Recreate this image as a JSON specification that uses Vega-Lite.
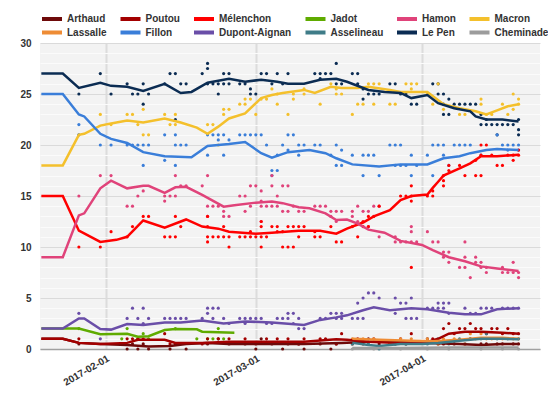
{
  "$schema": "https://vega.github.io/schema/vega-lite/v6.json",
  "width": 500,
  "height": 306,
  "autosize": {"type": "none"},
  "padding": {"left": 40, "top": 43, "right": 8, "bottom": 61},
  "config": {
    "font": "Liberation Sans",
    "view": {"fill": "#f3f3f3", "stroke": null}
  },
  "datasets": {
    "lines": [
      {"c":"Arthaud","d":"2017-01-20","v":1},{"c":"Arthaud","d":"2017-01-24","v":1},{"c":"Arthaud","d":"2017-01-27","v":0.6},{"c":"Arthaud","d":"2017-01-31","v":0.5},{"c":"Arthaud","d":"2017-02-05","v":0.4},{"c":"Arthaud","d":"2017-02-09","v":0.25},{"c":"Arthaud","d":"2017-02-13","v":0.3},{"c":"Arthaud","d":"2017-02-16","v":0.5},{"c":"Arthaud","d":"2017-02-20","v":0.6},{"c":"Arthaud","d":"2017-02-24","v":0.5},{"c":"Arthaud","d":"2017-03-01","v":0.5},{"c":"Arthaud","d":"2017-03-10","v":0.5},{"c":"Arthaud","d":"2017-03-17","v":0.6},{"c":"Arthaud","d":"2017-03-22","v":0.7},{"c":"Arthaud","d":"2017-03-28","v":0.7},{"c":"Arthaud","d":"2017-04-02","v":0.6},{"c":"Arthaud","d":"2017-04-08","v":0.5},{"c":"Arthaud","d":"2017-04-12","v":0.4},{"c":"Arthaud","d":"2017-04-16","v":0.5},{"c":"Arthaud","d":"2017-04-19","v":0.5},
      {"c":"Poutou","d":"2017-01-20","v":1},{"c":"Poutou","d":"2017-01-24","v":1},{"c":"Poutou","d":"2017-01-27","v":0.6},{"c":"Poutou","d":"2017-01-31","v":0.5},{"c":"Poutou","d":"2017-02-05","v":0.6},{"c":"Poutou","d":"2017-02-07","v":0.9},{"c":"Poutou","d":"2017-02-12","v":0.9},{"c":"Poutou","d":"2017-02-14","v":0.6},{"c":"Poutou","d":"2017-02-19","v":0.6},{"c":"Poutou","d":"2017-02-24","v":0.7},{"c":"Poutou","d":"2017-03-01","v":0.7},{"c":"Poutou","d":"2017-03-10","v":0.7},{"c":"Poutou","d":"2017-03-16","v":0.95},{"c":"Poutou","d":"2017-03-18","v":0.9},{"c":"Poutou","d":"2017-03-22","v":0.7},{"c":"Poutou","d":"2017-03-28","v":0.6},{"c":"Poutou","d":"2017-04-02","v":0.7},{"c":"Poutou","d":"2017-04-04","v":1.0},{"c":"Poutou","d":"2017-04-06","v":1.5},{"c":"Poutou","d":"2017-04-09","v":1.7},{"c":"Poutou","d":"2017-04-12","v":1.7},{"c":"Poutou","d":"2017-04-16","v":1.6},{"c":"Poutou","d":"2017-04-19","v":1.5},
      {"c":"Mélenchon","d":"2017-01-20","v":15},{"c":"Mélenchon","d":"2017-01-24","v":15},{"c":"Mélenchon","d":"2017-01-27","v":11.6},{"c":"Mélenchon","d":"2017-01-31","v":10.5},{"c":"Mélenchon","d":"2017-02-03","v":10.7},{"c":"Mélenchon","d":"2017-02-05","v":11.0},{"c":"Mélenchon","d":"2017-02-08","v":12.6},{"c":"Mélenchon","d":"2017-02-12","v":11.9},{"c":"Mélenchon","d":"2017-02-16","v":12.7},{"c":"Mélenchon","d":"2017-02-19","v":12.0},{"c":"Mélenchon","d":"2017-02-22","v":11.8},{"c":"Mélenchon","d":"2017-02-24","v":11.5},{"c":"Mélenchon","d":"2017-03-01","v":11.3},{"c":"Mélenchon","d":"2017-03-04","v":11.4},{"c":"Mélenchon","d":"2017-03-09","v":11.6},{"c":"Mélenchon","d":"2017-03-13","v":11.6},{"c":"Mélenchon","d":"2017-03-16","v":11.3},{"c":"Mélenchon","d":"2017-03-18","v":11.8},{"c":"Mélenchon","d":"2017-03-21","v":12.4},{"c":"Mélenchon","d":"2017-03-23","v":13.0},{"c":"Mélenchon","d":"2017-03-26","v":13.6},{"c":"Mélenchon","d":"2017-03-28","v":14.6},{"c":"Mélenchon","d":"2017-03-30","v":15.0},{"c":"Mélenchon","d":"2017-04-02","v":15.15},{"c":"Mélenchon","d":"2017-04-03","v":15.8},{"c":"Mélenchon","d":"2017-04-04","v":16.4},{"c":"Mélenchon","d":"2017-04-05","v":17.0},{"c":"Mélenchon","d":"2017-04-08","v":17.7},{"c":"Mélenchon","d":"2017-04-10","v":18.2},{"c":"Mélenchon","d":"2017-04-12","v":18.9},{"c":"Mélenchon","d":"2017-04-15","v":18.9},{"c":"Mélenchon","d":"2017-04-19","v":19.05},
      {"c":"Jadot","d":"2017-01-20","v":2},{"c":"Jadot","d":"2017-01-27","v":2},{"c":"Jadot","d":"2017-01-31","v":1.45},{"c":"Jadot","d":"2017-02-05","v":1.5},{"c":"Jadot","d":"2017-02-07","v":1.2},{"c":"Jadot","d":"2017-02-09","v":1.25},{"c":"Jadot","d":"2017-02-12","v":1.86},{"c":"Jadot","d":"2017-02-14","v":1.96},{"c":"Jadot","d":"2017-02-18","v":1.93},{"c":"Jadot","d":"2017-02-19","v":1.7},{"c":"Jadot","d":"2017-02-25","v":1.6},
      {"c":"Hamon","d":"2017-01-20","v":9},{"c":"Hamon","d":"2017-01-24","v":9},{"c":"Hamon","d":"2017-01-27","v":13.1},{"c":"Hamon","d":"2017-01-28","v":13.3},{"c":"Hamon","d":"2017-01-31","v":15.75},{"c":"Hamon","d":"2017-02-02","v":16.5},{"c":"Hamon","d":"2017-02-05","v":15.75},{"c":"Hamon","d":"2017-02-08","v":16.0},{"c":"Hamon","d":"2017-02-09","v":16.0},{"c":"Hamon","d":"2017-02-12","v":15.3},{"c":"Hamon","d":"2017-02-14","v":15.85},{"c":"Hamon","d":"2017-02-16","v":15.9},{"c":"Hamon","d":"2017-02-19","v":15.1},{"c":"Hamon","d":"2017-02-23","v":13.95},{"c":"Hamon","d":"2017-02-25","v":14.1},{"c":"Hamon","d":"2017-03-01","v":14.35},{"c":"Hamon","d":"2017-03-04","v":14.45},{"c":"Hamon","d":"2017-03-06","v":14.3},{"c":"Hamon","d":"2017-03-09","v":13.9},{"c":"Hamon","d":"2017-03-11","v":13.8},{"c":"Hamon","d":"2017-03-14","v":13.3},{"c":"Hamon","d":"2017-03-16","v":12.65},{"c":"Hamon","d":"2017-03-18","v":12.7},{"c":"Hamon","d":"2017-03-20","v":12.3},{"c":"Hamon","d":"2017-03-22","v":11.7},{"c":"Hamon","d":"2017-03-25","v":11.4},{"c":"Hamon","d":"2017-03-28","v":10.6},{"c":"Hamon","d":"2017-04-01","v":10.2},{"c":"Hamon","d":"2017-04-03","v":9.7},{"c":"Hamon","d":"2017-04-06","v":9.0},{"c":"Hamon","d":"2017-04-09","v":8.6},{"c":"Hamon","d":"2017-04-12","v":8.1},{"c":"Hamon","d":"2017-04-15","v":7.9},{"c":"Hamon","d":"2017-04-19","v":7.65},
      {"c":"Macron","d":"2017-01-20","v":18},{"c":"Macron","d":"2017-01-24","v":18},{"c":"Macron","d":"2017-01-27","v":21.0},{"c":"Macron","d":"2017-01-28","v":21.1},{"c":"Macron","d":"2017-01-31","v":21.9},{"c":"Macron","d":"2017-02-02","v":22.1},{"c":"Macron","d":"2017-02-05","v":22.4},{"c":"Macron","d":"2017-02-08","v":22.2},{"c":"Macron","d":"2017-02-12","v":22.6},{"c":"Macron","d":"2017-02-15","v":22.2},{"c":"Macron","d":"2017-02-18","v":21.7},{"c":"Macron","d":"2017-02-20","v":21.1},{"c":"Macron","d":"2017-02-22","v":21.8},{"c":"Macron","d":"2017-02-24","v":22.6},{"c":"Macron","d":"2017-02-27","v":23.1},{"c":"Macron","d":"2017-03-02","v":24.6},{"c":"Macron","d":"2017-03-04","v":24.9},{"c":"Macron","d":"2017-03-06","v":25.1},{"c":"Macron","d":"2017-03-10","v":25.4},{"c":"Macron","d":"2017-03-12","v":25.1},{"c":"Macron","d":"2017-03-15","v":25.7},{"c":"Macron","d":"2017-03-17","v":25.6},{"c":"Macron","d":"2017-03-20","v":25.6},{"c":"Macron","d":"2017-03-22","v":25.7},{"c":"Macron","d":"2017-03-26","v":25.4},{"c":"Macron","d":"2017-03-28","v":25.2},{"c":"Macron","d":"2017-04-02","v":25.2},{"c":"Macron","d":"2017-04-05","v":24.0},{"c":"Macron","d":"2017-04-08","v":23.6},{"c":"Macron","d":"2017-04-11","v":23.3},{"c":"Macron","d":"2017-04-13","v":23.0},{"c":"Macron","d":"2017-04-15","v":23.4},{"c":"Macron","d":"2017-04-17","v":23.8},{"c":"Macron","d":"2017-04-19","v":24.0},
      {"c":"Lassalle","d":"2017-03-19","v":1.0},{"c":"Lassalle","d":"2017-03-24","v":0.9},{"c":"Lassalle","d":"2017-03-30","v":0.8},{"c":"Lassalle","d":"2017-04-03","v":0.75},{"c":"Lassalle","d":"2017-04-08","v":0.9},{"c":"Lassalle","d":"2017-04-12","v":1.1},{"c":"Lassalle","d":"2017-04-16","v":1.1},{"c":"Lassalle","d":"2017-04-19","v":1.0},
      {"c":"Fillon","d":"2017-01-20","v":25},{"c":"Fillon","d":"2017-01-24","v":25},{"c":"Fillon","d":"2017-01-27","v":23.0},{"c":"Fillon","d":"2017-01-28","v":22.8},{"c":"Fillon","d":"2017-01-31","v":21.1},{"c":"Fillon","d":"2017-02-02","v":20.6},{"c":"Fillon","d":"2017-02-05","v":20.2},{"c":"Fillon","d":"2017-02-08","v":19.3},{"c":"Fillon","d":"2017-02-12","v":18.9},{"c":"Fillon","d":"2017-02-17","v":18.8},{"c":"Fillon","d":"2017-02-20","v":19.9},{"c":"Fillon","d":"2017-02-24","v":20.1},{"c":"Fillon","d":"2017-02-27","v":20.3},{"c":"Fillon","d":"2017-03-02","v":19.2},{"c":"Fillon","d":"2017-03-04","v":18.75},{"c":"Fillon","d":"2017-03-07","v":19.3},{"c":"Fillon","d":"2017-03-11","v":19.5},{"c":"Fillon","d":"2017-03-14","v":19.2},{"c":"Fillon","d":"2017-03-16","v":18.7},{"c":"Fillon","d":"2017-03-19","v":18.1},{"c":"Fillon","d":"2017-03-24","v":17.9},{"c":"Fillon","d":"2017-03-28","v":18.1},{"c":"Fillon","d":"2017-04-02","v":18.1},{"c":"Fillon","d":"2017-04-05","v":18.7},{"c":"Fillon","d":"2017-04-08","v":18.9},{"c":"Fillon","d":"2017-04-10","v":19.2},{"c":"Fillon","d":"2017-04-13","v":19.5},{"c":"Fillon","d":"2017-04-15","v":19.6},{"c":"Fillon","d":"2017-04-19","v":19.5},
      {"c":"Dupont-Aignan","d":"2017-01-20","v":2},{"c":"Dupont-Aignan","d":"2017-01-24","v":2},{"c":"Dupont-Aignan","d":"2017-01-27","v":3.0},{"c":"Dupont-Aignan","d":"2017-01-28","v":3.0},{"c":"Dupont-Aignan","d":"2017-01-31","v":1.96},{"c":"Dupont-Aignan","d":"2017-02-02","v":1.9},{"c":"Dupont-Aignan","d":"2017-02-05","v":2.45},{"c":"Dupont-Aignan","d":"2017-02-08","v":2.35},{"c":"Dupont-Aignan","d":"2017-02-12","v":2.6},{"c":"Dupont-Aignan","d":"2017-02-15","v":2.6},{"c":"Dupont-Aignan","d":"2017-02-19","v":2.8},{"c":"Dupont-Aignan","d":"2017-02-23","v":2.5},{"c":"Dupont-Aignan","d":"2017-02-27","v":2.7},{"c":"Dupont-Aignan","d":"2017-03-04","v":2.6},{"c":"Dupont-Aignan","d":"2017-03-10","v":2.35},{"c":"Dupont-Aignan","d":"2017-03-13","v":2.85},{"c":"Dupont-Aignan","d":"2017-03-16","v":3.1},{"c":"Dupont-Aignan","d":"2017-03-18","v":3.3},{"c":"Dupont-Aignan","d":"2017-03-21","v":3.8},{"c":"Dupont-Aignan","d":"2017-03-23","v":4.1},{"c":"Dupont-Aignan","d":"2017-03-26","v":3.8},{"c":"Dupont-Aignan","d":"2017-03-30","v":4.0},{"c":"Dupont-Aignan","d":"2017-04-02","v":3.9},{"c":"Dupont-Aignan","d":"2017-04-06","v":3.56},{"c":"Dupont-Aignan","d":"2017-04-09","v":3.4},{"c":"Dupont-Aignan","d":"2017-04-12","v":3.4},{"c":"Dupont-Aignan","d":"2017-04-15","v":3.9},{"c":"Dupont-Aignan","d":"2017-04-19","v":4.0},
      {"c":"Asselineau","d":"2017-03-19","v":0.6},{"c":"Asselineau","d":"2017-03-22","v":0.4},{"c":"Asselineau","d":"2017-03-24","v":0.3},{"c":"Asselineau","d":"2017-03-28","v":0.5},{"c":"Asselineau","d":"2017-04-01","v":0.5},{"c":"Asselineau","d":"2017-04-04","v":0.6},{"c":"Asselineau","d":"2017-04-08","v":0.8},{"c":"Asselineau","d":"2017-04-12","v":1.0},{"c":"Asselineau","d":"2017-04-16","v":1.0},{"c":"Asselineau","d":"2017-04-19","v":0.95},
      {"c":"Le Pen","d":"2017-01-20","v":27},{"c":"Le Pen","d":"2017-01-24","v":27},{"c":"Le Pen","d":"2017-01-27","v":25.6},{"c":"Le Pen","d":"2017-01-31","v":26.1},{"c":"Le Pen","d":"2017-02-02","v":25.8},{"c":"Le Pen","d":"2017-02-05","v":25.7},{"c":"Le Pen","d":"2017-02-08","v":25.3},{"c":"Le Pen","d":"2017-02-12","v":26.0},{"c":"Le Pen","d":"2017-02-15","v":25.1},{"c":"Le Pen","d":"2017-02-17","v":25.2},{"c":"Le Pen","d":"2017-02-20","v":26.1},{"c":"Le Pen","d":"2017-02-24","v":26.5},{"c":"Le Pen","d":"2017-02-27","v":26.2},{"c":"Le Pen","d":"2017-03-02","v":26.4},{"c":"Le Pen","d":"2017-03-05","v":26.2},{"c":"Le Pen","d":"2017-03-07","v":26.0},{"c":"Le Pen","d":"2017-03-10","v":26.0},{"c":"Le Pen","d":"2017-03-13","v":26.4},{"c":"Le Pen","d":"2017-03-16","v":26.5},{"c":"Le Pen","d":"2017-03-18","v":26.2},{"c":"Le Pen","d":"2017-03-22","v":25.4},{"c":"Le Pen","d":"2017-03-25","v":25.2},{"c":"Le Pen","d":"2017-03-28","v":25.1},{"c":"Le Pen","d":"2017-03-30","v":24.6},{"c":"Le Pen","d":"2017-04-02","v":24.9},{"c":"Le Pen","d":"2017-04-04","v":24.1},{"c":"Le Pen","d":"2017-04-07","v":23.6},{"c":"Le Pen","d":"2017-04-10","v":23.3},{"c":"Le Pen","d":"2017-04-11","v":22.8},{"c":"Le Pen","d":"2017-04-13","v":22.5},{"c":"Le Pen","d":"2017-04-16","v":22.5},{"c":"Le Pen","d":"2017-04-19","v":22.3},
      {"c":"Cheminade","d":"2017-03-19","v":0.1},{"c":"Cheminade","d":"2017-03-28","v":0.1},{"c":"Cheminade","d":"2017-04-06","v":0.15},{"c":"Cheminade","d":"2017-04-13","v":0.15},{"c":"Cheminade","d":"2017-04-19","v":0.15}
    ],
    "polls": [
      {"c":"Le Pen","d":"2017-01-27","v":25},{"c":"Le Pen","d":"2017-01-31","v":27},{"c":"Le Pen","d":"2017-02-02","v":25},{"c":"Le Pen","d":"2017-02-05","v":26},{"c":"Le Pen","d":"2017-02-06","v":25},{"c":"Le Pen","d":"2017-02-07","v":25},{"c":"Le Pen","d":"2017-02-08","v":26},{"c":"Le Pen","d":"2017-02-08","v":24},{"c":"Le Pen","d":"2017-02-09","v":25},{"c":"Le Pen","d":"2017-02-12","v":26},{"c":"Le Pen","d":"2017-02-13","v":27},{"c":"Le Pen","d":"2017-02-14","v":27},{"c":"Le Pen","d":"2017-02-14","v":22.5},{"c":"Le Pen","d":"2017-02-15","v":26},{"c":"Le Pen","d":"2017-02-16","v":26},{"c":"Le Pen","d":"2017-02-19","v":27},{"c":"Le Pen","d":"2017-02-20","v":28},{"c":"Le Pen","d":"2017-02-20","v":27.5},{"c":"Le Pen","d":"2017-02-20","v":26},{"c":"Le Pen","d":"2017-02-21","v":26},{"c":"Le Pen","d":"2017-02-22","v":26},{"c":"Le Pen","d":"2017-02-22","v":25},{"c":"Le Pen","d":"2017-02-23","v":27},{"c":"Le Pen","d":"2017-02-24","v":27},{"c":"Le Pen","d":"2017-02-23","v":26},{"c":"Le Pen","d":"2017-02-24","v":26},{"c":"Le Pen","d":"2017-02-26","v":26},{"c":"Le Pen","d":"2017-02-27","v":26},{"c":"Le Pen","d":"2017-02-28","v":25.5},{"c":"Le Pen","d":"2017-02-28","v":25},{"c":"Le Pen","d":"2017-03-01","v":25},{"c":"Le Pen","d":"2017-03-02","v":27},{"c":"Le Pen","d":"2017-03-03","v":27},{"c":"Le Pen","d":"2017-03-05","v":27},{"c":"Le Pen","d":"2017-03-04","v":26},{"c":"Le Pen","d":"2017-03-06","v":26},{"c":"Le Pen","d":"2017-03-07","v":27},{"c":"Le Pen","d":"2017-03-12","v":27},{"c":"Le Pen","d":"2017-03-13","v":27},{"c":"Le Pen","d":"2017-03-14","v":27},{"c":"Le Pen","d":"2017-03-15","v":27},{"c":"Le Pen","d":"2017-03-16","v":28},{"c":"Le Pen","d":"2017-03-13","v":26.5},{"c":"Le Pen","d":"2017-03-16","v":26},{"c":"Le Pen","d":"2017-03-17","v":26},{"c":"Le Pen","d":"2017-03-19","v":27},{"c":"Le Pen","d":"2017-03-20","v":27},{"c":"Le Pen","d":"2017-03-20","v":26},{"c":"Le Pen","d":"2017-03-21","v":25.5},{"c":"Le Pen","d":"2017-03-21","v":24.5},{"c":"Le Pen","d":"2017-03-22","v":25},{"c":"Le Pen","d":"2017-03-23","v":25},{"c":"Le Pen","d":"2017-03-24","v":25},{"c":"Le Pen","d":"2017-03-26","v":26},{"c":"Le Pen","d":"2017-03-27","v":26},{"c":"Le Pen","d":"2017-03-28","v":25},{"c":"Le Pen","d":"2017-03-29","v":25},{"c":"Le Pen","d":"2017-03-30","v":24},{"c":"Le Pen","d":"2017-03-31","v":24},{"c":"Le Pen","d":"2017-04-03","v":26},{"c":"Le Pen","d":"2017-04-04","v":26},{"c":"Le Pen","d":"2017-04-04","v":25},{"c":"Le Pen","d":"2017-04-05","v":25},{"c":"Le Pen","d":"2017-04-05","v":24},{"c":"Le Pen","d":"2017-04-06","v":24.5},{"c":"Le Pen","d":"2017-04-05","v":23},{"c":"Le Pen","d":"2017-04-06","v":23},{"c":"Le Pen","d":"2017-04-07","v":24},{"c":"Le Pen","d":"2017-04-08","v":24},{"c":"Le Pen","d":"2017-04-09","v":24},{"c":"Le Pen","d":"2017-04-10","v":24},{"c":"Le Pen","d":"2017-04-11","v":24},{"c":"Le Pen","d":"2017-04-12","v":23},{"c":"Le Pen","d":"2017-04-13","v":22.5},{"c":"Le Pen","d":"2017-04-12","v":22},{"c":"Le Pen","d":"2017-04-13","v":22},{"c":"Le Pen","d":"2017-04-14","v":22},{"c":"Le Pen","d":"2017-04-15","v":22},{"c":"Le Pen","d":"2017-04-16","v":22},{"c":"Le Pen","d":"2017-04-17","v":22},{"c":"Le Pen","d":"2017-04-18","v":22},{"c":"Le Pen","d":"2017-04-15","v":21},{"c":"Le Pen","d":"2017-04-19","v":22.5},{"c":"Le Pen","d":"2017-04-19","v":21.5},{"c":"Le Pen","d":"2017-04-19","v":21},
      {"c":"Macron","d":"2017-01-27","v":21},{"c":"Macron","d":"2017-01-31","v":23},{"c":"Macron","d":"2017-02-02","v":22},{"c":"Macron","d":"2017-02-05","v":23},{"c":"Macron","d":"2017-02-06","v":23},{"c":"Macron","d":"2017-02-07","v":22},{"c":"Macron","d":"2017-02-08","v":23.5},{"c":"Macron","d":"2017-02-08","v":21},{"c":"Macron","d":"2017-02-09","v":21},{"c":"Macron","d":"2017-02-12","v":23},{"c":"Macron","d":"2017-02-13","v":22},{"c":"Macron","d":"2017-02-14","v":23},{"c":"Macron","d":"2017-02-14","v":22},{"c":"Macron","d":"2017-02-20","v":22},{"c":"Macron","d":"2017-02-21","v":22},{"c":"Macron","d":"2017-02-22","v":20},{"c":"Macron","d":"2017-02-23","v":23},{"c":"Macron","d":"2017-02-23","v":23.5},{"c":"Macron","d":"2017-02-24","v":23.5},{"c":"Macron","d":"2017-02-26","v":24},{"c":"Macron","d":"2017-02-27","v":24},{"c":"Macron","d":"2017-02-27","v":24.5},{"c":"Macron","d":"2017-02-28","v":24.5},{"c":"Macron","d":"2017-03-01","v":23},{"c":"Macron","d":"2017-03-02","v":24.5},{"c":"Macron","d":"2017-03-03","v":24.5},{"c":"Macron","d":"2017-03-04","v":25.5},{"c":"Macron","d":"2017-03-05","v":25},{"c":"Macron","d":"2017-03-05","v":24},{"c":"Macron","d":"2017-03-07","v":23},{"c":"Macron","d":"2017-03-08","v":25},{"c":"Macron","d":"2017-03-08","v":24.5},{"c":"Macron","d":"2017-03-10","v":25},{"c":"Macron","d":"2017-03-10","v":25.5},{"c":"Macron","d":"2017-03-13","v":24},{"c":"Macron","d":"2017-03-15","v":26},{"c":"Macron","d":"2017-03-16","v":25.5},{"c":"Macron","d":"2017-03-16","v":25},{"c":"Macron","d":"2017-03-17","v":25},{"c":"Macron","d":"2017-03-19","v":23},{"c":"Macron","d":"2017-03-20","v":24},{"c":"Macron","d":"2017-03-21","v":24},{"c":"Macron","d":"2017-03-22","v":26},{"c":"Macron","d":"2017-03-23","v":26},{"c":"Macron","d":"2017-03-24","v":26},{"c":"Macron","d":"2017-03-23","v":24},{"c":"Macron","d":"2017-03-26","v":24},{"c":"Macron","d":"2017-03-27","v":24},{"c":"Macron","d":"2017-03-29","v":26},{"c":"Macron","d":"2017-03-30","v":26},{"c":"Macron","d":"2017-03-31","v":26},{"c":"Macron","d":"2017-03-30","v":25.5},{"c":"Macron","d":"2017-04-02","v":25},{"c":"Macron","d":"2017-04-03","v":24},{"c":"Macron","d":"2017-04-04","v":26},{"c":"Macron","d":"2017-04-05","v":23.5},{"c":"Macron","d":"2017-04-08","v":23},{"c":"Macron","d":"2017-04-09","v":23},{"c":"Macron","d":"2017-04-12","v":24.5},{"c":"Macron","d":"2017-04-12","v":24},{"c":"Macron","d":"2017-04-13","v":23},{"c":"Macron","d":"2017-04-14","v":23},{"c":"Macron","d":"2017-04-16","v":24},{"c":"Macron","d":"2017-04-17","v":23},{"c":"Macron","d":"2017-04-18","v":25},{"c":"Macron","d":"2017-04-18","v":23.5},{"c":"Macron","d":"2017-04-19","v":24.5},{"c":"Macron","d":"2017-04-19","v":24},
      {"c":"Fillon","d":"2017-01-27","v":22},{"c":"Fillon","d":"2017-01-27","v":21},{"c":"Fillon","d":"2017-01-31","v":20},{"c":"Fillon","d":"2017-02-02","v":20},{"c":"Fillon","d":"2017-02-05","v":20},{"c":"Fillon","d":"2017-02-06","v":20},{"c":"Fillon","d":"2017-02-07","v":20},{"c":"Fillon","d":"2017-02-08","v":20},{"c":"Fillon","d":"2017-02-09","v":20},{"c":"Fillon","d":"2017-02-08","v":18},{"c":"Fillon","d":"2017-02-12","v":21},{"c":"Fillon","d":"2017-02-12","v":18.5},{"c":"Fillon","d":"2017-02-14","v":21},{"c":"Fillon","d":"2017-02-14","v":20},{"c":"Fillon","d":"2017-02-14","v":18},{"c":"Fillon","d":"2017-02-15","v":20},{"c":"Fillon","d":"2017-02-16","v":20},{"c":"Fillon","d":"2017-02-20","v":21},{"c":"Fillon","d":"2017-02-21","v":21},{"c":"Fillon","d":"2017-02-22","v":21},{"c":"Fillon","d":"2017-02-23","v":21},{"c":"Fillon","d":"2017-02-20","v":19},{"c":"Fillon","d":"2017-02-23","v":19},{"c":"Fillon","d":"2017-02-22","v":20.5},{"c":"Fillon","d":"2017-02-24","v":20.5},{"c":"Fillon","d":"2017-02-26","v":21},{"c":"Fillon","d":"2017-02-27","v":21},{"c":"Fillon","d":"2017-02-28","v":21},{"c":"Fillon","d":"2017-03-01","v":21},{"c":"Fillon","d":"2017-03-02","v":21},{"c":"Fillon","d":"2017-03-03","v":20},{"c":"Fillon","d":"2017-03-04","v":17},{"c":"Fillon","d":"2017-03-04","v":17.5},{"c":"Fillon","d":"2017-03-05","v":19},{"c":"Fillon","d":"2017-03-05","v":17.5},{"c":"Fillon","d":"2017-03-07","v":21},{"c":"Fillon","d":"2017-03-08","v":21},{"c":"Fillon","d":"2017-03-06","v":20},{"c":"Fillon","d":"2017-03-07","v":19.5},{"c":"Fillon","d":"2017-03-09","v":20},{"c":"Fillon","d":"2017-03-10","v":20},{"c":"Fillon","d":"2017-03-09","v":19},{"c":"Fillon","d":"2017-03-12","v":20},{"c":"Fillon","d":"2017-03-13","v":20},{"c":"Fillon","d":"2017-03-15","v":19},{"c":"Fillon","d":"2017-03-16","v":20},{"c":"Fillon","d":"2017-03-17","v":19.5},{"c":"Fillon","d":"2017-03-16","v":18},{"c":"Fillon","d":"2017-03-17","v":18},{"c":"Fillon","d":"2017-03-19","v":19},{"c":"Fillon","d":"2017-03-21","v":17},{"c":"Fillon","d":"2017-03-21","v":19},{"c":"Fillon","d":"2017-03-22","v":19},{"c":"Fillon","d":"2017-03-23","v":19},{"c":"Fillon","d":"2017-03-24","v":17},{"c":"Fillon","d":"2017-03-26","v":20},{"c":"Fillon","d":"2017-03-27","v":20},{"c":"Fillon","d":"2017-03-28","v":20},{"c":"Fillon","d":"2017-03-27","v":18},{"c":"Fillon","d":"2017-03-28","v":18},{"c":"Fillon","d":"2017-03-29","v":18},{"c":"Fillon","d":"2017-03-30","v":19},{"c":"Fillon","d":"2017-03-31","v":18},{"c":"Fillon","d":"2017-03-30","v":17},{"c":"Fillon","d":"2017-04-02","v":19},{"c":"Fillon","d":"2017-04-03","v":20},{"c":"Fillon","d":"2017-04-04","v":20},{"c":"Fillon","d":"2017-04-03","v":17},{"c":"Fillon","d":"2017-04-05","v":20},{"c":"Fillon","d":"2017-04-05","v":19},{"c":"Fillon","d":"2017-04-06","v":18},{"c":"Fillon","d":"2017-04-07","v":20},{"c":"Fillon","d":"2017-04-08","v":20},{"c":"Fillon","d":"2017-04-09","v":20},{"c":"Fillon","d":"2017-04-10","v":20},{"c":"Fillon","d":"2017-04-12","v":19},{"c":"Fillon","d":"2017-04-15","v":21},{"c":"Fillon","d":"2017-04-16","v":20},{"c":"Fillon","d":"2017-04-17","v":20},{"c":"Fillon","d":"2017-04-18","v":20},{"c":"Fillon","d":"2017-04-19","v":20},{"c":"Fillon","d":"2017-04-17","v":19.5},{"c":"Fillon","d":"2017-04-19","v":19.5},
      {"c":"Hamon","d":"2017-01-27","v":15},{"c":"Hamon","d":"2017-01-31","v":17},{"c":"Hamon","d":"2017-02-02","v":17},{"c":"Hamon","d":"2017-02-05","v":14},{"c":"Hamon","d":"2017-02-06","v":14},{"c":"Hamon","d":"2017-02-07","v":15},{"c":"Hamon","d":"2017-02-08","v":15.5},{"c":"Hamon","d":"2017-02-12","v":15},{"c":"Hamon","d":"2017-02-12","v":14.5},{"c":"Hamon","d":"2017-02-13","v":15},{"c":"Hamon","d":"2017-02-14","v":15},{"c":"Hamon","d":"2017-02-14","v":17},{"c":"Hamon","d":"2017-02-15","v":16},{"c":"Hamon","d":"2017-02-16","v":16},{"c":"Hamon","d":"2017-02-19","v":16},{"c":"Hamon","d":"2017-02-20","v":17},{"c":"Hamon","d":"2017-02-20","v":14},{"c":"Hamon","d":"2017-02-20","v":13},{"c":"Hamon","d":"2017-02-21","v":14},{"c":"Hamon","d":"2017-02-22","v":14},{"c":"Hamon","d":"2017-02-23","v":13.5},{"c":"Hamon","d":"2017-02-23","v":13},{"c":"Hamon","d":"2017-02-24","v":13},{"c":"Hamon","d":"2017-02-26","v":15},{"c":"Hamon","d":"2017-02-27","v":15},{"c":"Hamon","d":"2017-02-27","v":13.5},{"c":"Hamon","d":"2017-02-28","v":14},{"c":"Hamon","d":"2017-02-28","v":16},{"c":"Hamon","d":"2017-03-01","v":16},{"c":"Hamon","d":"2017-03-02","v":15.5},{"c":"Hamon","d":"2017-03-02","v":14.5},{"c":"Hamon","d":"2017-03-02","v":14},{"c":"Hamon","d":"2017-03-03","v":14},{"c":"Hamon","d":"2017-03-04","v":14},{"c":"Hamon","d":"2017-03-04","v":16},{"c":"Hamon","d":"2017-03-04","v":17},{"c":"Hamon","d":"2017-03-02","v":12.5},{"c":"Hamon","d":"2017-03-05","v":14},{"c":"Hamon","d":"2017-03-06","v":16},{"c":"Hamon","d":"2017-03-07","v":16},{"c":"Hamon","d":"2017-03-05","v":15},{"c":"Hamon","d":"2017-03-06","v":13.5},{"c":"Hamon","d":"2017-03-07","v":13.5},{"c":"Hamon","d":"2017-03-08","v":14},{"c":"Hamon","d":"2017-03-09","v":13.5},{"c":"Hamon","d":"2017-03-10","v":13.5},{"c":"Hamon","d":"2017-03-12","v":14},{"c":"Hamon","d":"2017-03-13","v":14},{"c":"Hamon","d":"2017-03-14","v":14},{"c":"Hamon","d":"2017-03-15","v":13.5},{"c":"Hamon","d":"2017-03-16","v":13.5},{"c":"Hamon","d":"2017-03-17","v":13.5},{"c":"Hamon","d":"2017-03-15","v":13},{"c":"Hamon","d":"2017-03-16","v":12.5},{"c":"Hamon","d":"2017-03-19","v":13.5},{"c":"Hamon","d":"2017-03-19","v":13},{"c":"Hamon","d":"2017-03-20","v":14},{"c":"Hamon","d":"2017-03-20","v":12.5},{"c":"Hamon","d":"2017-03-21","v":13.5},{"c":"Hamon","d":"2017-03-22","v":13.5},{"c":"Hamon","d":"2017-03-23","v":14},{"c":"Hamon","d":"2017-03-24","v":14},{"c":"Hamon","d":"2017-03-22","v":12},{"c":"Hamon","d":"2017-03-24","v":11},{"c":"Hamon","d":"2017-03-27","v":11},{"c":"Hamon","d":"2017-03-27","v":10.5},{"c":"Hamon","d":"2017-03-28","v":10.5},{"c":"Hamon","d":"2017-03-29","v":10.5},{"c":"Hamon","d":"2017-03-30","v":10.5},{"c":"Hamon","d":"2017-03-31","v":10.5},{"c":"Hamon","d":"2017-03-30","v":12},{"c":"Hamon","d":"2017-03-30","v":11.5},{"c":"Hamon","d":"2017-04-02","v":11.5},{"c":"Hamon","d":"2017-04-03","v":10.5},{"c":"Hamon","d":"2017-04-04","v":10.5},{"c":"Hamon","d":"2017-04-05","v":9},{"c":"Hamon","d":"2017-04-05","v":9.5},{"c":"Hamon","d":"2017-04-06","v":9.5},{"c":"Hamon","d":"2017-04-06","v":8.5},{"c":"Hamon","d":"2017-04-08","v":8},{"c":"Hamon","d":"2017-04-09","v":8},{"c":"Hamon","d":"2017-04-09","v":10.5},{"c":"Hamon","d":"2017-04-09","v":9},{"c":"Hamon","d":"2017-04-10","v":7},{"c":"Hamon","d":"2017-04-11","v":9},{"c":"Hamon","d":"2017-04-11","v":8.5},{"c":"Hamon","d":"2017-04-12","v":8.5},{"c":"Hamon","d":"2017-04-12","v":8},{"c":"Hamon","d":"2017-04-13","v":8},{"c":"Hamon","d":"2017-04-13","v":7.5},{"c":"Hamon","d":"2017-04-16","v":8},{"c":"Hamon","d":"2017-04-16","v":7.5},{"c":"Hamon","d":"2017-04-17","v":7.5},{"c":"Hamon","d":"2017-04-18","v":8.5},{"c":"Hamon","d":"2017-04-18","v":7.5},{"c":"Hamon","d":"2017-04-19","v":7.5},{"c":"Hamon","d":"2017-04-19","v":7},
      {"c":"Mélenchon","d":"2017-01-27","v":10},{"c":"Mélenchon","d":"2017-01-31","v":10},{"c":"Mélenchon","d":"2017-02-02","v":11.5},{"c":"Mélenchon","d":"2017-02-05","v":11},{"c":"Mélenchon","d":"2017-02-06","v":12},{"c":"Mélenchon","d":"2017-02-08","v":13},{"c":"Mélenchon","d":"2017-02-09","v":13},{"c":"Mélenchon","d":"2017-02-12","v":11},{"c":"Mélenchon","d":"2017-02-13","v":11},{"c":"Mélenchon","d":"2017-02-14","v":11},{"c":"Mélenchon","d":"2017-02-14","v":13},{"c":"Mélenchon","d":"2017-02-15","v":12},{"c":"Mélenchon","d":"2017-02-20","v":13},{"c":"Mélenchon","d":"2017-02-20","v":12},{"c":"Mélenchon","d":"2017-02-20","v":11},{"c":"Mélenchon","d":"2017-02-20","v":10.5},{"c":"Mélenchon","d":"2017-02-21","v":11},{"c":"Mélenchon","d":"2017-02-22","v":11},{"c":"Mélenchon","d":"2017-02-23","v":11},{"c":"Mélenchon","d":"2017-02-23","v":12},{"c":"Mélenchon","d":"2017-02-24","v":11},{"c":"Mélenchon","d":"2017-02-24","v":10},{"c":"Mélenchon","d":"2017-02-26","v":11},{"c":"Mélenchon","d":"2017-02-27","v":11},{"c":"Mélenchon","d":"2017-02-28","v":11.5},{"c":"Mélenchon","d":"2017-02-28","v":11},{"c":"Mélenchon","d":"2017-03-01","v":11},{"c":"Mélenchon","d":"2017-03-02","v":11},{"c":"Mélenchon","d":"2017-03-03","v":11},{"c":"Mélenchon","d":"2017-03-02","v":12.5},{"c":"Mélenchon","d":"2017-03-02","v":12},{"c":"Mélenchon","d":"2017-03-02","v":10},{"c":"Mélenchon","d":"2017-03-04","v":12},{"c":"Mélenchon","d":"2017-03-05","v":11.5},{"c":"Mélenchon","d":"2017-03-05","v":12},{"c":"Mélenchon","d":"2017-03-06","v":11.5},{"c":"Mélenchon","d":"2017-03-06","v":10},{"c":"Mélenchon","d":"2017-03-07","v":10},{"c":"Mélenchon","d":"2017-03-08","v":10},{"c":"Mélenchon","d":"2017-03-07","v":12},{"c":"Mélenchon","d":"2017-03-08","v":12},{"c":"Mélenchon","d":"2017-03-09","v":12},{"c":"Mélenchon","d":"2017-03-10","v":12},{"c":"Mélenchon","d":"2017-03-09","v":11},{"c":"Mélenchon","d":"2017-03-12","v":11},{"c":"Mélenchon","d":"2017-03-13","v":11},{"c":"Mélenchon","d":"2017-03-12","v":11.5},{"c":"Mélenchon","d":"2017-03-15","v":12},{"c":"Mélenchon","d":"2017-03-16","v":10.5},{"c":"Mélenchon","d":"2017-03-17","v":10.5},{"c":"Mélenchon","d":"2017-03-19","v":12},{"c":"Mélenchon","d":"2017-03-20","v":11},{"c":"Mélenchon","d":"2017-03-21","v":12},{"c":"Mélenchon","d":"2017-03-22","v":12},{"c":"Mélenchon","d":"2017-03-21","v":12.5},{"c":"Mélenchon","d":"2017-03-22","v":13},{"c":"Mélenchon","d":"2017-03-23","v":13},{"c":"Mélenchon","d":"2017-03-24","v":14},{"c":"Mélenchon","d":"2017-03-28","v":15},{"c":"Mélenchon","d":"2017-03-29","v":15},{"c":"Mélenchon","d":"2017-03-30","v":15},{"c":"Mélenchon","d":"2017-03-30","v":14.5},{"c":"Mélenchon","d":"2017-03-30","v":16},{"c":"Mélenchon","d":"2017-03-30","v":8},{"c":"Mélenchon","d":"2017-04-02","v":15},{"c":"Mélenchon","d":"2017-04-03","v":15},{"c":"Mélenchon","d":"2017-04-03","v":15.5},{"c":"Mélenchon","d":"2017-04-05","v":16},{"c":"Mélenchon","d":"2017-04-05","v":17},{"c":"Mélenchon","d":"2017-04-05","v":16.5},{"c":"Mélenchon","d":"2017-04-06","v":18},{"c":"Mélenchon","d":"2017-04-06","v":17.5},{"c":"Mélenchon","d":"2017-04-08","v":18},{"c":"Mélenchon","d":"2017-04-09","v":17},{"c":"Mélenchon","d":"2017-04-11","v":18.5},{"c":"Mélenchon","d":"2017-04-11","v":17},{"c":"Mélenchon","d":"2017-04-12","v":17},{"c":"Mélenchon","d":"2017-04-12","v":20},{"c":"Mélenchon","d":"2017-04-13","v":20},{"c":"Mélenchon","d":"2017-04-12","v":19},{"c":"Mélenchon","d":"2017-04-14","v":19},{"c":"Mélenchon","d":"2017-04-15","v":18},{"c":"Mélenchon","d":"2017-04-16","v":18},{"c":"Mélenchon","d":"2017-04-17","v":19},{"c":"Mélenchon","d":"2017-04-18","v":18.5},{"c":"Mélenchon","d":"2017-04-18","v":19},{"c":"Mélenchon","d":"2017-04-19","v":19.5},{"c":"Mélenchon","d":"2017-04-19","v":19},
      {"c":"Dupont-Aignan","d":"2017-01-27","v":3.5},{"c":"Dupont-Aignan","d":"2017-01-31","v":1},{"c":"Dupont-Aignan","d":"2017-02-05","v":3},{"c":"Dupont-Aignan","d":"2017-02-06","v":4},{"c":"Dupont-Aignan","d":"2017-02-07","v":3},{"c":"Dupont-Aignan","d":"2017-02-08","v":4},{"c":"Dupont-Aignan","d":"2017-02-09","v":3},{"c":"Dupont-Aignan","d":"2017-02-08","v":2.5},{"c":"Dupont-Aignan","d":"2017-02-12","v":3},{"c":"Dupont-Aignan","d":"2017-02-13","v":3},{"c":"Dupont-Aignan","d":"2017-02-14","v":3},{"c":"Dupont-Aignan","d":"2017-02-15","v":3},{"c":"Dupont-Aignan","d":"2017-02-16","v":3},{"c":"Dupont-Aignan","d":"2017-02-19","v":3},{"c":"Dupont-Aignan","d":"2017-02-20","v":4},{"c":"Dupont-Aignan","d":"2017-02-20","v":3.5},{"c":"Dupont-Aignan","d":"2017-02-21","v":4},{"c":"Dupont-Aignan","d":"2017-02-22","v":4},{"c":"Dupont-Aignan","d":"2017-02-21","v":3},{"c":"Dupont-Aignan","d":"2017-02-23","v":3},{"c":"Dupont-Aignan","d":"2017-02-24","v":2.5},{"c":"Dupont-Aignan","d":"2017-02-26","v":3},{"c":"Dupont-Aignan","d":"2017-02-27","v":3},{"c":"Dupont-Aignan","d":"2017-02-27","v":2.5},{"c":"Dupont-Aignan","d":"2017-02-28","v":3},{"c":"Dupont-Aignan","d":"2017-03-01","v":3},{"c":"Dupont-Aignan","d":"2017-03-02","v":3},{"c":"Dupont-Aignan","d":"2017-03-03","v":2.5},{"c":"Dupont-Aignan","d":"2017-03-04","v":2.5},{"c":"Dupont-Aignan","d":"2017-03-05","v":3},{"c":"Dupont-Aignan","d":"2017-03-06","v":3},{"c":"Dupont-Aignan","d":"2017-03-07","v":3.5},{"c":"Dupont-Aignan","d":"2017-03-08","v":3.5},{"c":"Dupont-Aignan","d":"2017-03-07","v":3},{"c":"Dupont-Aignan","d":"2017-03-09","v":3},{"c":"Dupont-Aignan","d":"2017-03-08","v":2.5},{"c":"Dupont-Aignan","d":"2017-03-09","v":2},{"c":"Dupont-Aignan","d":"2017-03-10","v":2},{"c":"Dupont-Aignan","d":"2017-03-13","v":3},{"c":"Dupont-Aignan","d":"2017-03-14","v":3},{"c":"Dupont-Aignan","d":"2017-03-15","v":3.5},{"c":"Dupont-Aignan","d":"2017-03-16","v":3.5},{"c":"Dupont-Aignan","d":"2017-03-17","v":3.5},{"c":"Dupont-Aignan","d":"2017-03-16","v":3},{"c":"Dupont-Aignan","d":"2017-03-17","v":3},{"c":"Dupont-Aignan","d":"2017-03-19","v":3},{"c":"Dupont-Aignan","d":"2017-03-20","v":3},{"c":"Dupont-Aignan","d":"2017-03-21","v":3},{"c":"Dupont-Aignan","d":"2017-03-20","v":4.5},{"c":"Dupont-Aignan","d":"2017-03-21","v":5},{"c":"Dupont-Aignan","d":"2017-03-22","v":5.5},{"c":"Dupont-Aignan","d":"2017-03-23","v":5.5},{"c":"Dupont-Aignan","d":"2017-03-24","v":5},{"c":"Dupont-Aignan","d":"2017-03-27","v":5},{"c":"Dupont-Aignan","d":"2017-03-27","v":3.5},{"c":"Dupont-Aignan","d":"2017-03-28","v":4.5},{"c":"Dupont-Aignan","d":"2017-03-29","v":4.5},{"c":"Dupont-Aignan","d":"2017-03-30","v":5},{"c":"Dupont-Aignan","d":"2017-03-29","v":3},{"c":"Dupont-Aignan","d":"2017-03-30","v":3},{"c":"Dupont-Aignan","d":"2017-03-31","v":3},{"c":"Dupont-Aignan","d":"2017-04-02","v":4},{"c":"Dupont-Aignan","d":"2017-04-03","v":4},{"c":"Dupont-Aignan","d":"2017-04-04","v":4},{"c":"Dupont-Aignan","d":"2017-04-05","v":4},{"c":"Dupont-Aignan","d":"2017-04-04","v":4.5},{"c":"Dupont-Aignan","d":"2017-04-05","v":4.5},{"c":"Dupont-Aignan","d":"2017-04-06","v":4.5},{"c":"Dupont-Aignan","d":"2017-04-06","v":3.5},{"c":"Dupont-Aignan","d":"2017-04-09","v":4},{"c":"Dupont-Aignan","d":"2017-04-10","v":3.5},{"c":"Dupont-Aignan","d":"2017-04-11","v":3.5},{"c":"Dupont-Aignan","d":"2017-04-12","v":4},{"c":"Dupont-Aignan","d":"2017-04-13","v":4},{"c":"Dupont-Aignan","d":"2017-04-14","v":4},{"c":"Dupont-Aignan","d":"2017-04-16","v":4},{"c":"Dupont-Aignan","d":"2017-04-17","v":4},{"c":"Dupont-Aignan","d":"2017-04-18","v":4},{"c":"Dupont-Aignan","d":"2017-04-19","v":4},
      {"c":"Jadot","d":"2017-01-27","v":2},{"c":"Jadot","d":"2017-02-04","v":1},{"c":"Jadot","d":"2017-02-05","v":2},{"c":"Jadot","d":"2017-02-07","v":1},{"c":"Jadot","d":"2017-02-08","v":1.5},{"c":"Jadot","d":"2017-02-09","v":1},{"c":"Jadot","d":"2017-02-14","v":2},{"c":"Jadot","d":"2017-02-18","v":1},{"c":"Jadot","d":"2017-02-20","v":1},{"c":"Jadot","d":"2017-02-21","v":1},{"c":"Jadot","d":"2017-02-22","v":2},{"c":"Jadot","d":"2017-02-23","v":1},
      {"c":"Arthaud","d":"2017-01-27","v":0.5},{"c":"Arthaud","d":"2017-02-05","v":0},{"c":"Arthaud","d":"2017-02-06","v":0.5},{"c":"Arthaud","d":"2017-02-07","v":0},{"c":"Arthaud","d":"2017-02-08","v":0.5},{"c":"Arthaud","d":"2017-02-09","v":0},{"c":"Arthaud","d":"2017-02-13","v":0},{"c":"Arthaud","d":"2017-02-14","v":0.5},{"c":"Arthaud","d":"2017-02-16","v":0},{"c":"Arthaud","d":"2017-02-20","v":0.5},{"c":"Arthaud","d":"2017-02-22","v":1},{"c":"Arthaud","d":"2017-02-24","v":0.5},{"c":"Arthaud","d":"2017-02-27","v":0.5},{"c":"Arthaud","d":"2017-03-01","v":0},{"c":"Arthaud","d":"2017-03-02","v":1},{"c":"Arthaud","d":"2017-03-04","v":0.5},{"c":"Arthaud","d":"2017-03-06","v":0},{"c":"Arthaud","d":"2017-03-07","v":0.5},{"c":"Arthaud","d":"2017-03-09","v":0.5},{"c":"Arthaud","d":"2017-03-10","v":0},{"c":"Arthaud","d":"2017-03-13","v":0.5},{"c":"Arthaud","d":"2017-03-15","v":0},{"c":"Arthaud","d":"2017-03-16","v":0.5},{"c":"Arthaud","d":"2017-03-19","v":0.5},{"c":"Arthaud","d":"2017-03-21","v":0.5},{"c":"Arthaud","d":"2017-03-22","v":1},{"c":"Arthaud","d":"2017-03-24","v":0.5},{"c":"Arthaud","d":"2017-03-27","v":0.5},{"c":"Arthaud","d":"2017-03-29","v":0.5},{"c":"Arthaud","d":"2017-04-02","v":1},{"c":"Arthaud","d":"2017-04-04","v":0.5},{"c":"Arthaud","d":"2017-04-05","v":0.5},{"c":"Arthaud","d":"2017-04-07","v":0.5},{"c":"Arthaud","d":"2017-04-09","v":0.5},{"c":"Arthaud","d":"2017-04-10","v":1},{"c":"Arthaud","d":"2017-04-12","v":0.5},{"c":"Arthaud","d":"2017-04-13","v":0.5},{"c":"Arthaud","d":"2017-04-15","v":0.5},{"c":"Arthaud","d":"2017-04-16","v":0.5},{"c":"Arthaud","d":"2017-04-18","v":0.5},{"c":"Arthaud","d":"2017-04-19","v":0.5},
      {"c":"Poutou","d":"2017-01-27","v":1},{"c":"Poutou","d":"2017-02-05","v":1},{"c":"Poutou","d":"2017-02-06","v":1},{"c":"Poutou","d":"2017-02-07","v":1},{"c":"Poutou","d":"2017-02-08","v":1},{"c":"Poutou","d":"2017-02-12","v":1.5},{"c":"Poutou","d":"2017-02-13","v":0.5},{"c":"Poutou","d":"2017-02-14","v":0.5},{"c":"Poutou","d":"2017-02-19","v":0.5},{"c":"Poutou","d":"2017-02-20","v":1},{"c":"Poutou","d":"2017-02-22","v":1},{"c":"Poutou","d":"2017-02-24","v":1},{"c":"Poutou","d":"2017-02-27","v":1},{"c":"Poutou","d":"2017-03-01","v":0.5},{"c":"Poutou","d":"2017-03-03","v":1},{"c":"Poutou","d":"2017-03-05","v":1},{"c":"Poutou","d":"2017-03-07","v":1},{"c":"Poutou","d":"2017-03-09","v":0.5},{"c":"Poutou","d":"2017-03-10","v":1},{"c":"Poutou","d":"2017-03-13","v":1},{"c":"Poutou","d":"2017-03-14","v":1},{"c":"Poutou","d":"2017-03-16","v":0.5},{"c":"Poutou","d":"2017-03-17","v":1.5},{"c":"Poutou","d":"2017-03-20","v":1},{"c":"Poutou","d":"2017-03-23","v":1},{"c":"Poutou","d":"2017-03-26","v":0.5},{"c":"Poutou","d":"2017-03-28","v":1},{"c":"Poutou","d":"2017-03-30","v":1.5},{"c":"Poutou","d":"2017-04-03","v":1},{"c":"Poutou","d":"2017-04-05","v":2},{"c":"Poutou","d":"2017-04-06","v":2.5},{"c":"Poutou","d":"2017-04-07","v":1.5},{"c":"Poutou","d":"2017-04-08","v":2},{"c":"Poutou","d":"2017-04-09","v":2},{"c":"Poutou","d":"2017-04-10","v":2.5},{"c":"Poutou","d":"2017-04-11","v":2},{"c":"Poutou","d":"2017-04-12","v":2},{"c":"Poutou","d":"2017-04-13","v":1.5},{"c":"Poutou","d":"2017-04-14","v":2},{"c":"Poutou","d":"2017-04-15","v":2},{"c":"Poutou","d":"2017-04-16","v":1.5},{"c":"Poutou","d":"2017-04-17","v":2},{"c":"Poutou","d":"2017-04-18","v":1.5},{"c":"Poutou","d":"2017-04-19","v":1.5},
      {"c":"Lassalle","d":"2017-03-19","v":1},{"c":"Lassalle","d":"2017-03-21","v":1},{"c":"Lassalle","d":"2017-03-23","v":1},{"c":"Lassalle","d":"2017-03-26","v":0.5},{"c":"Lassalle","d":"2017-03-28","v":1},{"c":"Lassalle","d":"2017-03-30","v":1},{"c":"Lassalle","d":"2017-04-02","v":1},{"c":"Lassalle","d":"2017-04-04","v":0.5},{"c":"Lassalle","d":"2017-04-05","v":1},{"c":"Lassalle","d":"2017-04-07","v":1},{"c":"Lassalle","d":"2017-04-09","v":0.5},{"c":"Lassalle","d":"2017-04-10","v":1.5},{"c":"Lassalle","d":"2017-04-11","v":1},{"c":"Lassalle","d":"2017-04-12","v":1.5},{"c":"Lassalle","d":"2017-04-13","v":1},{"c":"Lassalle","d":"2017-04-14","v":1},{"c":"Lassalle","d":"2017-04-16","v":1},{"c":"Lassalle","d":"2017-04-18","v":1},{"c":"Lassalle","d":"2017-04-19","v":1},
      {"c":"Asselineau","d":"2017-03-19","v":0.5},{"c":"Asselineau","d":"2017-03-22","v":0.5},{"c":"Asselineau","d":"2017-03-24","v":0},{"c":"Asselineau","d":"2017-03-27","v":0.5},{"c":"Asselineau","d":"2017-03-29","v":0.5},{"c":"Asselineau","d":"2017-04-02","v":0.5},{"c":"Asselineau","d":"2017-04-04","v":1},{"c":"Asselineau","d":"2017-04-06","v":0.5},{"c":"Asselineau","d":"2017-04-08","v":1},{"c":"Asselineau","d":"2017-04-10","v":1},{"c":"Asselineau","d":"2017-04-12","v":1},{"c":"Asselineau","d":"2017-04-13","v":1.5},{"c":"Asselineau","d":"2017-04-15","v":1},{"c":"Asselineau","d":"2017-04-17","v":1},{"c":"Asselineau","d":"2017-04-19","v":1},
      {"c":"Cheminade","d":"2017-03-19","v":0},{"c":"Cheminade","d":"2017-03-23","v":0},{"c":"Cheminade","d":"2017-03-28","v":0},{"c":"Cheminade","d":"2017-04-02","v":0},{"c":"Cheminade","d":"2017-04-06","v":0},{"c":"Cheminade","d":"2017-04-09","v":0.5},{"c":"Cheminade","d":"2017-04-12","v":0},{"c":"Cheminade","d":"2017-04-16","v":0},{"c":"Cheminade","d":"2017-04-19","v":0}
    ]
  },
  "encoding": {
    "x": {
      "field": "d",
      "type": "temporal",
      "scale": {
        "type": "utc",
        "domain": [
          {"year": 2017, "month": 1, "date": 19, "hours": 18, "utc": true},
          {"year": 2017, "month": 4, "date": 23, "utc": true}
        ]
      },
      "axis": {
        "title": null,
        "values": [
          {"year": 2017, "month": 2, "date": 1, "utc": true},
          {"year": 2017, "month": 3, "date": 1, "utc": true},
          {"year": 2017, "month": 4, "date": 1, "utc": true}
        ],
        "format": "%Y-%m-%d",
        "labelAngle": -30,
        "labelAlign": "right",
        "labelBaseline": "top",
        "labelFontSize": 10,
        "labelFontWeight": "bold",
        "labelColor": "#333333",
        "labelPadding": 4,
        "ticks": false,
        "domainColor": "#a0a0a0",
        "domainWidth": 1.5,
        "gridColor": "#dcdcdc",
        "gridWidth": 2
      }
    },
    "y": {
      "field": "v",
      "type": "quantitative",
      "scale": {"domain": [0, 30], "nice": false},
      "axis": {
        "title": null,
        "values": [0,1,2,3,4,5,6,7,8,9,10,11,12,13,14,15,16,17,18,19,20,21,22,23,24,25,26,27,28,29,30],
        "labelExpr": "datum.value % 5 === 0 ? datum.label : ''",
        "labelFontSize": 10,
        "labelFontWeight": "bold",
        "labelColor": "#333333",
        "labelPadding": 9,
        "ticks": false,
        "domain": false,
        "gridColor": {"condition": {"test": "datum.value % 5 === 0", "value": "#dadada"}, "value": "#fbfbfb"}
      }
    },
    "color": {
      "field": "c",
      "type": "nominal",
      "scale": {
        "domain": ["Arthaud", "Poutou", "Mélenchon", "Jadot", "Hamon", "Macron", "Lassalle", "Fillon", "Dupont-Aignan", "Asselineau", "Le Pen", "Cheminade"],
        "range": ["#6e0a0a", "#a30000", "#ff0000", "#5fab00", "#e0437a", "#f4c02c", "#ee8c35", "#3a7ed9", "#6a4ea8", "#3f7c88", "#0b2c53", "#9c9c9c"]
      },
      "legend": {
        "title": null,
        "orient": "none",
        "legendX": 0,
        "legendY": -30,
        "direction": "horizontal",
        "columns": 6,
        "symbolType": "stroke",
        "symbolStrokeWidth": 4,
        "symbolSize": 400,
        "clipHeight": 12,
        "labelOffset": 3,
        "labelFontSize": 10,
        "labelFontWeight": "bold",
        "labelColor": "#333333",
        "columnPadding": 11.5,
        "rowPadding": 1.5,
        "padding": 0
      }
    }
  },
  "layer": [
    {
      "data": {"name": "polls"},
      "mark": {"type": "circle", "size": 10, "opacity": 1}
    },
    {
      "data": {"name": "lines"},
      "mark": {"type": "line", "strokeWidth": 2.5},
      "encoding": {"detail": {"field": "c"}}
    }
  ]
}
